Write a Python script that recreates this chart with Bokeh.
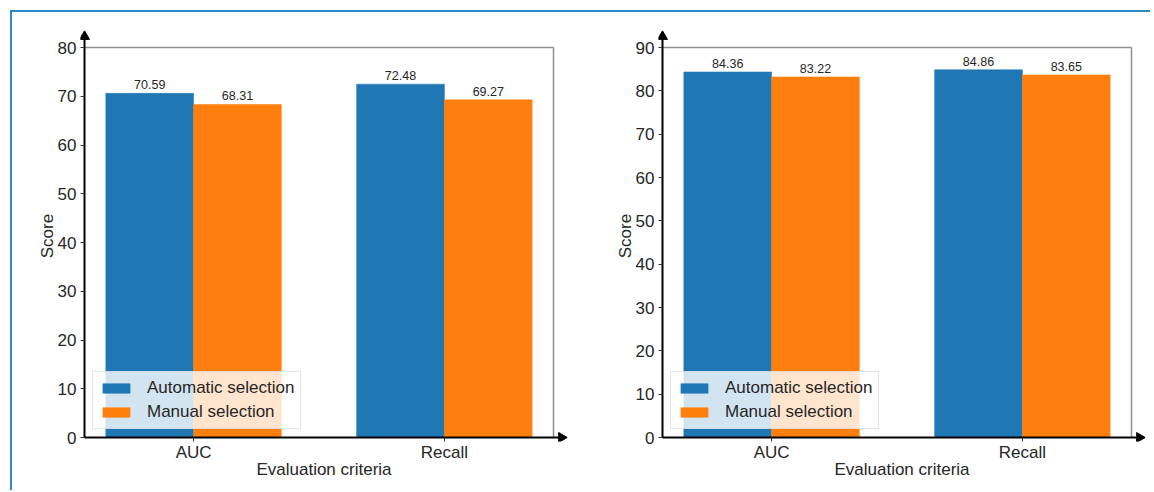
from bokeh.plotting import figure
from bokeh.layouts import row
from bokeh.models import (FixedTicker, ColumnDataSource,
                          Legend, LegendItem, Range1d)
from bokeh.embed import file_html
from bokeh.resources import INLINE
from bokeh.core.properties import value
import numpy as np

categories = ["AUC", "Recall"]
left_automatic = [70.59, 72.48]
left_manual = [68.31, 69.27]
right_automatic = [84.36, 84.86]
right_manual = [83.22, 83.65]
left_yticks = [0, 10, 20, 30, 40, 50, 60, 70, 80]
right_yticks = [0, 10, 20, 30, 40, 50, 60, 70, 80, 90]
series_names = ["Automatic selection", "Manual selection"]
colors = ["#1f77b4", "#ff7f0e"]

FONT = "Liberation Sans"
TXT = "#262626"
BAR_W = 0.35
H = 478
BOX_TOP = 35          # px from figure top to the grey box top
BOX_H = 390           # px height of the grey box (0..ymax)
EXT_Y = 17            # px the drawing area extends above the box
EXT_X = 14            # px the drawing area extends right of the box
PAD = 4               # px the drawing area extends left of / below the axes
MB_BOTTOM = H - BOX_TOP - BOX_H


def make_chart(auto, manual, yticks, width, axis_left, box_right):
    ymax = yticks[-1]
    n = len(categories)
    xpad = (n - 1 + 2 * BAR_W) * 0.05
    x0, x1 = -BAR_W - xpad, n - 1 + BAR_W + xpad
    box_w = width - axis_left - box_right
    dx = (x1 - x0) / box_w      # data units per px
    dy = ymax / BOX_H
    y_top = ymax + EXT_Y * dy
    x_right = x1 + EXT_X * dx
    p = figure(width=width, height=H,
               x_range=Range1d(x0 - PAD * dx, x_right),
               y_range=Range1d(-PAD * dy, y_top), output_backend="svg",
               toolbar_location=None, min_border_left=axis_left - PAD,
               min_border_right=box_right - EXT_X,
               min_border_top=BOX_TOP - EXT_Y,
               min_border_bottom=MB_BOTTOM - PAD, outline_line_color=None,
               background_fill_color="white", border_fill_color="white")
    p.grid.visible = False

    # grey box (top and right sides)
    p.segment(x0=[x0, x1], y0=[ymax, 0], x1=[x1, x1], y1=[ymax, ymax],
              line_color="#8f8f8f", line_width=1.5)

    idx = np.arange(n)
    renderers = []
    for k, (vals, col) in enumerate(zip([auto, manual], colors)):
        xs = idx + (k - 0.5) * BAR_W
        src = ColumnDataSource(dict(x=xs, top=vals,
                                    lab=["%.2f" % v for v in vals]))
        r = p.vbar(x="x", top="top", width=BAR_W, source=src,
                   fill_color=col, line_color=col, line_width=0.5)
        renderers.append(r)
        p.text(x="x", y="top", text="lab", source=src,
               text_font=value(FONT), text_font_size="12.5px",
               text_color=TXT, text_align="center",
               text_baseline="bottom", y_offset=-4)

    # black axis lines with arrow heads
    p.segment(x0=[x0, x0], y0=[0, 0], x1=[x0, x_right - 3 * dx],
              y1=[y_top - 3 * dy, 0], line_color="black", line_width=2)
    p.scatter(x=[x0], y=[y_top - 6 * dy], marker="triangle", size=10,
              fill_color="black", line_color="black")
    p.scatter(x=[x_right - 6 * dx], y=[0], marker="triangle", size=10,
              angle=-np.pi / 2, fill_color="black", line_color="black")

    legend = Legend(items=[LegendItem(label=nm, renderers=[r])
                           for nm, r in zip(series_names, renderers)],
                    location="bottom_left", margin=8 + PAD, padding=6,
                    spacing=4, label_height=19, glyph_width=34,
                    glyph_height=12, label_standoff=14,
                    label_text_font=FONT, label_text_font_size="17px",
                    label_text_color=TXT, background_fill_color="white",
                    background_fill_alpha=0.8, border_line_color="#cccccc",
                    border_line_width=1)
    p.add_layout(legend)

    # axes styling
    p.xaxis.ticker = FixedTicker(ticks=list(idx))
    p.xaxis.major_label_overrides = {int(i): c for i, c in zip(idx, categories)}
    p.yaxis.ticker = FixedTicker(ticks=yticks)
    for ax in (p.xaxis[0], p.yaxis[0]):
        ax.axis_line_color = None
        ax.major_tick_out = 0
        ax.major_tick_in = PAD
        ax.major_tick_line_color = "#333333"
        ax.minor_tick_line_color = None
        ax.major_label_text_font = FONT
        ax.major_label_text_font_size = "17px"
        ax.major_label_text_color = TXT
        ax.axis_label_text_font = FONT
        ax.axis_label_text_font_size = "17px"
        ax.axis_label_text_font_style = "normal"
        ax.axis_label_text_color = TXT
    p.xaxis.axis_label = "Evaluation criteria"
    p.yaxis.axis_label = "Score"
    p.xaxis.major_label_standoff = 1
    p.xaxis.axis_label_standoff = -5
    p.yaxis.major_label_standoff = 4
    p.yaxis.axis_label_standoff = -2
    return p


p1 = make_chart(left_automatic, left_manual, left_yticks, 573, 72, 32)
p2 = make_chart(right_automatic, right_manual, right_yticks, 565, 77, 19)

layout = row(p1, p2, margin=(10, 0, 0, 10),
             styles={"border-top": "2px solid #2b8cc9",
                     "border-left": "2px solid #2b8cc9"})

open("out.html", "w").write(file_html(layout, INLINE))
